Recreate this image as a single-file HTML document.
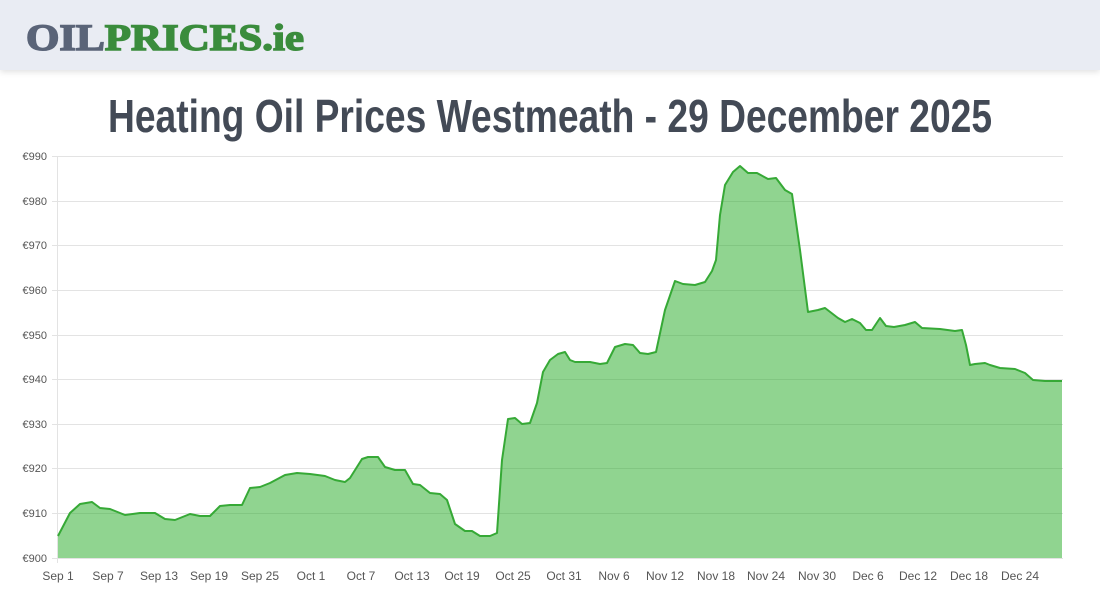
<!DOCTYPE html>
<html><head><meta charset="utf-8"><style>
body{margin:0;width:1100px;height:600px;background:#fff;overflow:hidden;font-family:"Liberation Sans",sans-serif}
.hdr{position:absolute;left:0;top:0;width:1100px;height:70px;background:#e9ecf3;box-shadow:0 2px 6px rgba(0,0,0,0.12)}
svg{position:absolute;left:0;top:0}
</style></head><body>
<div class="hdr"></div>
<svg width="1100" height="600" xmlns="http://www.w3.org/2000/svg">
<text x="26" y="50" font-family="Liberation Serif" font-weight="bold" font-size="37" textLength="278" lengthAdjust="spacingAndGlyphs" stroke-width="1.5"><tspan fill="#5a6478" stroke="#5a6478">OIL</tspan><tspan fill="#3a8c3c" stroke="#3a8c3c">PRICES.ie</tspan></text>
<text x="550" y="132" text-anchor="middle" font-family="Liberation Sans Narrow, Liberation Sans" font-weight="bold" font-size="46" fill="#434a56" textLength="884" lengthAdjust="spacingAndGlyphs">Heating Oil Prices Westmeath - 29 December 2025</text>
<g stroke="#e3e3e3" stroke-width="1">
<line x1="52" x2="1063" y1="558.5" y2="558.5"/><line x1="52" x2="1063" y1="513.5" y2="513.5"/><line x1="52" x2="1063" y1="468.5" y2="468.5"/><line x1="52" x2="1063" y1="424.5" y2="424.5"/><line x1="52" x2="1063" y1="379.5" y2="379.5"/><line x1="52" x2="1063" y1="335.5" y2="335.5"/><line x1="52" x2="1063" y1="290.5" y2="290.5"/><line x1="52" x2="1063" y1="245.5" y2="245.5"/><line x1="52" x2="1063" y1="201.5" y2="201.5"/><line x1="52" x2="1063" y1="156.5" y2="156.5"/>
<line x1="57.5" x2="57.5" y1="156" y2="563"/>
</g>
<g font-size="11" fill="#555" text-anchor="end">
<text x="47" y="562">€900</text><text x="47" y="517">€910</text><text x="47" y="472">€920</text><text x="47" y="428">€930</text><text x="47" y="383">€940</text><text x="47" y="339">€950</text><text x="47" y="294">€960</text><text x="47" y="249">€970</text><text x="47" y="205">€980</text><text x="47" y="160">€990</text>
</g>
<g font-size="12" fill="#555" text-anchor="middle">
<text x="58" y="580">Sep 1</text><text x="108" y="580">Sep 7</text><text x="159" y="580">Sep 13</text><text x="209" y="580">Sep 19</text><text x="260" y="580">Sep 25</text><text x="311" y="580">Oct 1</text><text x="361" y="580">Oct 7</text><text x="412" y="580">Oct 13</text><text x="462" y="580">Oct 19</text><text x="513" y="580">Oct 25</text><text x="564" y="580">Oct 31</text><text x="614" y="580">Nov 6</text><text x="665" y="580">Nov 12</text><text x="716" y="580">Nov 18</text><text x="766" y="580">Nov 24</text><text x="817" y="580">Nov 30</text><text x="868" y="580">Dec 6</text><text x="918" y="580">Dec 12</text><text x="969" y="580">Dec 18</text><text x="1020" y="580">Dec 24</text>
</g>
<polygon fill="rgba(34,170,34,0.5)" points="58,558 58,536 70,513 80,504 92,502 100,508 110,509 125,515 140,513 155,513 165,519 175,520 190,514 200,516 210,516 220,506 230,505 242,505 250,488 260,487 270,483 285,475 297,473 310,474 325,476 335,480 345,482 350,478 362,459 368,457 378,457 385,467 395,470 405,470 413,484 420,485 430,493 440,494 447,500 455,524 465,531 472,531 480,536 490,536 497,533 502,460 508,419 515,418 522,424 530,423 537,403 543,372 550,360 558,354 565,352 570,360 575,362 590,362 600,364 607,363 615,347 625,344 633,345 640,353 648,354 656,352 665,310 675,281 683,284 695,285 705,282 712,271 716,260 720,215 725,185 733,172 740,166 748,173 757,173 768,179 776,178 785,190 792,194 800,250 808,312 818,310 825,308 838,318 845,322 852,319 860,323 866,330 872,330 880,318 886,326 894,327 905,325 915,322 922,328 940,329 955,331 962,330 966,345 970,365 975,364 985,363 990,365 1000,368 1015,369 1025,373 1033,380 1045,381 1062,381 1062,558"/>
<polyline fill="none" stroke="#36a936" stroke-width="2" stroke-linejoin="round" points="58,536 70,513 80,504 92,502 100,508 110,509 125,515 140,513 155,513 165,519 175,520 190,514 200,516 210,516 220,506 230,505 242,505 250,488 260,487 270,483 285,475 297,473 310,474 325,476 335,480 345,482 350,478 362,459 368,457 378,457 385,467 395,470 405,470 413,484 420,485 430,493 440,494 447,500 455,524 465,531 472,531 480,536 490,536 497,533 502,460 508,419 515,418 522,424 530,423 537,403 543,372 550,360 558,354 565,352 570,360 575,362 590,362 600,364 607,363 615,347 625,344 633,345 640,353 648,354 656,352 665,310 675,281 683,284 695,285 705,282 712,271 716,260 720,215 725,185 733,172 740,166 748,173 757,173 768,179 776,178 785,190 792,194 800,250 808,312 818,310 825,308 838,318 845,322 852,319 860,323 866,330 872,330 880,318 886,326 894,327 905,325 915,322 922,328 940,329 955,331 962,330 966,345 970,365 975,364 985,363 990,365 1000,368 1015,369 1025,373 1033,380 1045,381 1062,381"/>
</svg>
</body></html>
